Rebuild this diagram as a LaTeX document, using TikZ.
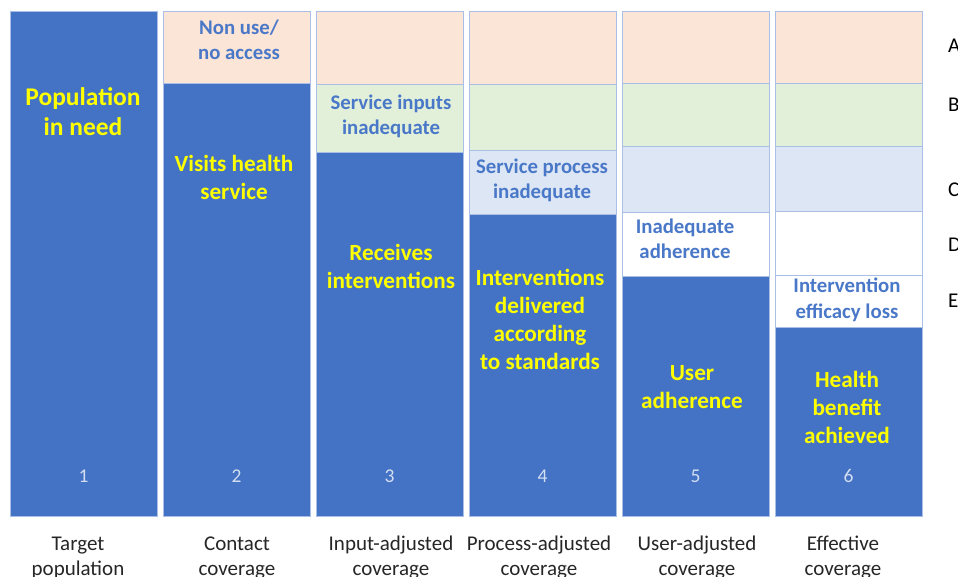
\documentclass[tikz,border=0pt]{standalone}
\usepackage{fontspec}
\setmainfont{Carlito}
\usetikzlibrary{positioning}

\definecolor{barblue}{HTML}{4472C4}
\definecolor{bandline}{HTML}{A9BFE6}
\definecolor{pinkband}{HTML}{FBE5D6}
\definecolor{greenband}{HTML}{E2F0D9}
\definecolor{skyband}{HTML}{DCE6F4}
\definecolor{gainyellow}{HTML}{FFFF00}
\definecolor{lossblue}{HTML}{4A78C8}
\definecolor{numtint}{HTML}{D3DEF2}

\tikzset{
  band/.style={draw=bandline, line width=0.8pt},
  gain/.style={text=gainyellow, font=\bfseries\fontsize{23.2}{28}\selectfont,
    align=center, anchor=base, inner sep=0pt},
  loss/.style={text=lossblue, font=\bfseries\fontsize{20.8}{25}\selectfont,
    align=center, anchor=base, inner sep=0pt},
  stage/.style={text=black!85, font=\fontsize{21}{25}\selectfont,
    align=center, anchor=base, inner sep=0pt},
  num/.style={text=numtint, font=\fontsize{19.5}{19.5}\selectfont, inner sep=0pt},
  level/.style={font=\fontsize{21}{21}\selectfont, anchor=base west, inner sep=0pt}
}

\begin{document}
\begin{tikzpicture}[x=1pt, y=-1pt]
\useasboundingbox (0,0) rectangle (958,577);

% the six bars, with their number and stage name
\foreach \n/\x/\lx/\lab in {1/10/78/{Target\\population},
    2/163/237/{Contact\\coverage},
    3/316/391/{Input-adjusted\\coverage},
    4/469/539/{Process-adjusted\\coverage},
    5/622/697/{User-adjusted\\coverage},
    6/775/843/{Effective\\coverage}} {
  \filldraw[band, fill=barblue] (\x,11) rectangle ++(147,505);
  \node[num] (num\n) at (\x+73.5,476) {\n};
  \node[stage] (stage\n) at (\lx,575) {\lab};
}

% drop-off bands on top of each bar
\filldraw[band, fill=pinkband] (163,11) rectangle (310,83);

\filldraw[band, fill=pinkband] (316,11) rectangle (463,84);
\filldraw[band, fill=greenband] (316,84) rectangle (463,152);

\filldraw[band, fill=pinkband] (469,11) rectangle (616,84);
\filldraw[band, fill=greenband] (469,84) rectangle (616,150);
\filldraw[band, fill=skyband] (469,150) rectangle (616,214);

\filldraw[band, fill=pinkband] (622,11) rectangle (769,83);
\filldraw[band, fill=greenband] (622,83) rectangle (769,146);
\filldraw[band, fill=skyband] (622,146) rectangle (769,212);
\filldraw[band, fill=white] (622,212) rectangle (769,276);

\filldraw[band, fill=pinkband] (775,11) rectangle (922,83);
\filldraw[band, fill=greenband] (775,83) rectangle (922,146);
\filldraw[band, fill=skyband] (775,146) rectangle (922,211);
\filldraw[band, fill=white] (775,211) rectangle (922,275);
\filldraw[band, fill=white] (775,275) rectangle (922,327);

% what is reached at each stage (placed at the last line's baseline)
\node[gain, font=\bfseries\fontsize{25.5}{30}\selectfont] (need) at (83,136) {Population\\in need};
\node[gain] (visits) at (234,200) {Visits health\\service};
\node[gain] (receives) at (391,288) {Receives\\interventions};
\node[gain] (delivered) at (540,369) {Interventions\\delivered\\according\\to standards};
\node[gain] (adherence) at (692,408) {User\\adherence};
\node[gain] (benefit) at (847,443) {Health\\benefit\\achieved};

% what is lost at each stage
\node[loss] (noaccess) at (239,60) {Non use/\\no access};
\node[loss] (inputs) at (391,135) {Service inputs\\inadequate};
\node[loss] (process) at (542,199) {Service process\\inadequate};
\node[loss] (inadequate) at (685,259) {Inadequate\\adherence};
\node[loss] (efficacy) at (847,318) {Intervention\\efficacy loss};

% band letters
\node[level] (lvA) at (948,53) {A};
\node[level] (lvB) at (948,112) {B};
\node[level] (lvC) at (948,197) {C};
\node[level] (lvD) at (948,252) {D};
\node[level] (lvE) at (948,308) {E};
\end{tikzpicture}
\end{document}
